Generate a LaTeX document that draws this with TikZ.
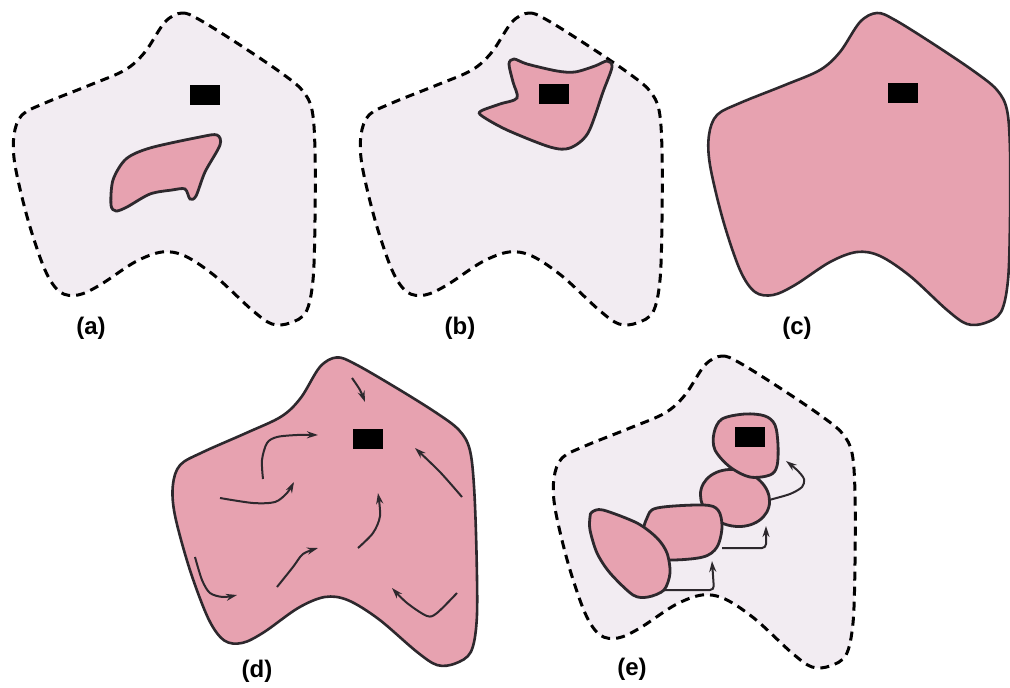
\documentclass[tikz,border=0pt]{standalone}
\usepackage{fontspec}
\setmainfont{Liberation Sans}
\usetikzlibrary{arrows.meta}
\definecolor{lightfill}{RGB}{242,236,242}
\definecolor{pinkfill}{RGB}{231,162,176}
\definecolor{edgecol}{RGB}{45,40,45}
\newcommand\cellpath{plot[smooth cycle, tension=0.55] coordinates {(165,22) (182,13) (200,20) (240,45) (280,72) (302,90) (312,110) (315,150) (315,220) (313,280) (306,312) (290,323) (272,324) (252,310) (215,276) (185,256) (162,252) (135,262) (100,285) (78,295) (60,292) (45,270) (28,220) (15,165) (14,135) (22,115) (45,103) (90,85) (125,70) (145,52)}}
\tikzset{
  cellout/.style={fill=lightfill, draw=black, line width=3pt, dash pattern=on 9pt off 6pt},
  cellfull/.style={fill=pinkfill, draw=edgecol, line width=2.6pt},
  blob/.style={fill=pinkfill, draw=edgecol, line width=2.8pt},
  rectbox/.style={fill=black, draw=none, minimum width=30pt, minimum height=20pt, inner sep=0pt},
  arr/.style={draw=edgecol, line width=2pt, -{Stealth[length=11pt,width=7pt]}},
  lab/.style={font=\bfseries\fontsize{24}{28}\selectfont, text=black, inner sep=0pt}
}
\begin{document}
\begin{tikzpicture}[x=1pt,y=-1pt]
\useasboundingbox (0,0) rectangle (1010,688);
\fill[white] (0,0) rectangle (1010,688);

% (a)
\draw[cellout] \cellpath;
\draw[blob] plot[smooth cycle, tension=0.5] coordinates {(111,205) (113,180) (126,159) (150,148) (200,137) (217,135) (220,145) (205,172) (196,196) (190,199) (185,189) (172,190) (150,194) (127,207) (116,211)};
\node[rectbox] (ra) at (205,95) {};
\node[lab] (la) at (91,328) {(a)};

% (b)
\begin{scope}[shift={(347,0)}]
\draw[cellout] \cellpath;
\end{scope}
\draw[blob] plot[smooth cycle, tension=0.5] coordinates {(509,64) (514,59) (527,64) (557,71) (575,72) (595,66) (607,61) (612,67) (603,92) (588,133) (570,148) (550,147) (507,130) (482,116) (481,111) (500,104) (517,98) (513,82)};
\node[rectbox] (rb) at (554,94) {};
\node[lab] (lb) at (460,328) {(b)};

% (c)
\begin{scope}[shift={(695,0)}]
\draw[cellfull] \cellpath;
\end{scope}
\node[rectbox] (rc) at (903,93) {};
\node[lab] (lc) at (797,328) {(c)};

% (d)
\begin{scope}[shift={(160,345)}]
\begin{scope}[rotate around={2:(163,170)}]
\draw[cellfull] \cellpath;
\end{scope}
\end{scope}
\node[rectbox] (rd) at (368,439) {};
\draw[arr] plot[smooth] coordinates {(352,378) (360,390) (365,402)};
\draw[arr] plot[smooth] coordinates {(263,479) (262,460) (267,443) (277,437) (297,435) (318,435)};
\draw[arr] plot[smooth] coordinates {(220,498) (253,503) (275,502) (287,493) (294,482)};
\draw[arr] plot[smooth] coordinates {(462,497) (440,472) (415,448)};
\draw[arr] plot[smooth] coordinates {(358,548) (373,533) (380,516) (378,493)};
\draw[arr] plot[smooth] coordinates {(277,587) (293,567) (303,554) (318,548)};
\draw[arr] plot[smooth] coordinates {(195,557) (202,580) (210,593) (223,597) (237,595)};
\draw[arr] plot[smooth] coordinates {(457,593) (437,613) (427,616) (407,603) (392,588)};
\node[lab] (ld) at (257,671) {(d)};

% (e)
\begin{scope}[shift={(540,343)}]
\draw[cellout] \cellpath;
\end{scope}
\draw[blob, rotate around={-15:(735,498)}] (735,498) ellipse [x radius=35, y radius=28];
\draw[blob] plot[smooth cycle, tension=0.55] coordinates {(714,433) (722,419) (745,414) (765,416) (775,425) (778,445) (777,466) (770,475) (750,477) (730,467) (715,450)};
\draw[blob] plot[smooth cycle, tension=0.55] coordinates {(647,518) (657,508) (703,505) (718,510) (722,527) (717,547) (703,557) (670,560) (650,556) (643,535)};
\draw[blob] plot[smooth cycle, tension=0.5] coordinates {(592,512) (603,510) (637,523) (657,538) (667,553) (670,573) (664,590) (648,597) (633,595) (610,573) (597,553) (590,530) (590,517)};
\node[rectbox] (re) at (750,437) {};
\draw[arr] plot[smooth] coordinates {(769,500) (790,494) (802,487) (804,479) (797,470) (786,461)};
\draw[arr, rounded corners=4pt] (722,548) -- (766,548) -- (766,526);
\draw[arr, rounded corners=4pt] (664,590) -- (714,590) -- (712,561);
\node[lab] (le) at (632,669) {(e)};
\end{tikzpicture}
\end{document}
